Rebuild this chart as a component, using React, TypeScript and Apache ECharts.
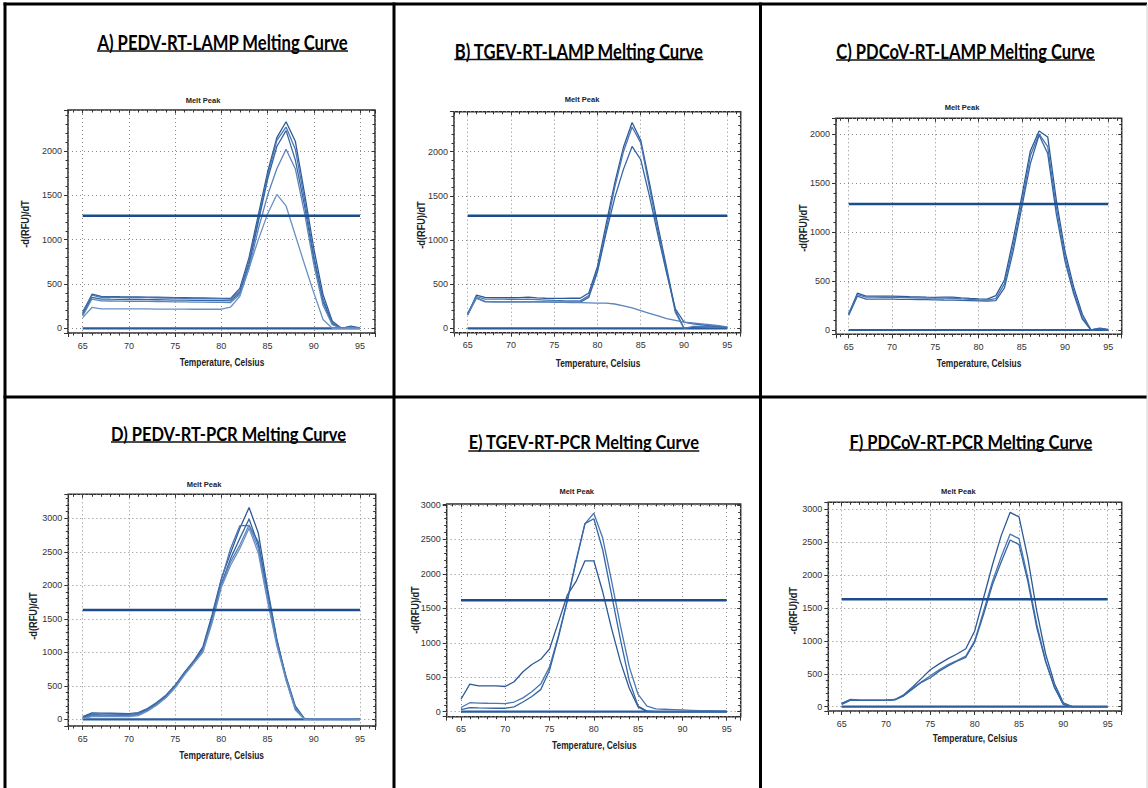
import { useEffect, useRef } from 'react';
import * as echarts from 'echarts';

// ---------- data ----------
const temperatures = [65, 66, 67, 68, 69, 70, 71, 72, 73, 74, 75, 76, 77, 78, 79, 80, 81, 82, 83, 84, 85, 86, 87, 88, 89, 90, 91, 92, 93, 94, 95];

const panelTitles = [
  'A) PEDV-RT-LAMP Melting Curve',
  'B) TGEV-RT-LAMP Melting Curve',
  'C) PDCoV-RT-LAMP Melting Curve',
  'D) PEDV-RT-PCR Melting Curve',
  'E) TGEV-RT-PCR Melting Curve',
  'F) PDCoV-RT-PCR Melting Curve',
];
const plotTitle = 'Melt Peak';
const xAxisName = 'Temperature, Celsius';
const yAxisName = '-d(RFU)/dT';

const thresholds = [1270, 1275, 1286, 1631, 1617, 1630];
const baseline = [0, 0, 0, 0, 0, 0, 0, 0, 0, 0, 0, 0, 0, 0, 0, 0, 0, 0, 0, 0, 0, 0, 0, 0, 0, 0, 0, 0, 0, 0, 0];

const curvesA = [
  [170, 385, 360, 358, 356, 355, 354, 352, 350, 348, 346, 345, 343, 342, 340, 338, 336, 450, 800, 1280, 1760, 2150, 2330, 2110, 1520, 900, 380, 80, 0, 25, 5],
  [190, 375, 350, 350, 348, 347, 346, 345, 343, 342, 340, 338, 336, 335, 333, 332, 330, 420, 760, 1230, 1720, 2120, 2270, 2020, 1450, 820, 330, 60, 0, 15, 0],
  [160, 350, 330, 328, 327, 326, 325, 324, 322, 320, 318, 317, 315, 314, 313, 312, 310, 400, 720, 1200, 1680, 2050, 2230, 1900, 1380, 780, 300, 50, 0, 10, 0],
  [140, 330, 310, 308, 306, 305, 304, 303, 302, 300, 298, 297, 296, 295, 293, 292, 290, 380, 680, 1120, 1500, 1800, 2020, 1800, 1300, 720, 260, 40, 0, 10, 0],
  [120, 235, 220, 220, 219, 219, 218, 218, 217, 217, 216, 216, 215, 215, 215, 215, 240, 360, 680, 1000, 1290, 1510, 1380, 1050, 720, 400, 100, 0, 0, 0, 0],
];
const curvesB = [
  [150, 375, 350, 348, 347, 346, 348, 352, 345, 340, 338, 338, 340, 340, 400, 700, 1180, 1650, 2050, 2330, 2130, 1650, 1150, 680, 200, 0, 10, 15, 20, 20, 10],
  [170, 360, 330, 330, 330, 328, 328, 330, 325, 320, 315, 312, 310, 310, 370, 660, 1120, 1600, 2000, 2280, 2100, 1600, 1100, 650, 180, 0, 20, 20, 25, 20, 5],
  [160, 345, 305, 300, 300, 300, 300, 300, 300, 298, 297, 296, 295, 295, 350, 640, 1080, 1480, 1800, 2060, 1910, 1500, 1050, 620, 220, 70, 50, 40, 30, 25, 10],
  [150, 340, 300, 300, 300, 300, 300, 300, 300, 298, 296, 294, 292, 290, 288, 286, 284, 275, 255, 230, 200, 170, 140, 110, 90, 70, 60, 50, 40, 30, 15],
];
const curvesC = [
  [160, 375, 345, 345, 345, 345, 343, 340, 338, 335, 333, 335, 335, 328, 322, 318, 315, 350, 510, 920, 1360, 1830, 2030, 1970, 1320, 800, 440, 160, 0, 20, 5],
  [170, 360, 335, 335, 334, 333, 332, 330, 328, 326, 325, 325, 324, 318, 313, 308, 305, 320, 470, 860, 1300, 1780, 2000, 1870, 1250, 750, 400, 130, 0, 15, 0],
  [150, 345, 315, 315, 315, 314, 313, 312, 311, 310, 308, 306, 305, 302, 300, 298, 295, 300, 430, 800, 1250, 1700, 1990, 1800, 1180, 700, 370, 110, 0, 10, 0],
];
const curvesD = [
  [40, 95, 92, 90, 88, 85, 100, 160, 250, 360, 510, 700, 870, 1080, 1560, 2100, 2480, 2850, 3160, 2780, 1950, 1200, 620, 180, 0, 5, 5, 5, 5, 5, 0],
  [30, 80, 78, 76, 75, 74, 90, 150, 240, 350, 500, 690, 860, 1050, 1520, 2080, 2550, 2890, 2890, 2650, 1900, 1180, 600, 150, 0, 10, 10, 10, 5, 5, 0],
  [20, 65, 62, 60, 60, 60, 75, 140, 230, 340, 490, 680, 850, 1040, 1500, 2020, 2400, 2700, 2990, 2600, 1880, 1150, 640, 200, 10, 10, 10, 10, 10, 10, 5],
  [15, 50, 50, 50, 50, 50, 65, 130, 220, 330, 480, 670, 840, 1020, 1470, 2000, 2350, 2600, 2900, 2550, 1800, 1130, 610, 170, 0, 5, 5, 5, 5, 5, 0],
  [10, 40, 40, 40, 40, 40, 55, 120, 210, 320, 470, 660, 830, 1000, 1440, 1970, 2300, 2550, 2850, 2480, 1760, 1100, 580, 140, 0, 5, 5, 5, 5, 5, 0],
];
const curvesE = [
  [180, 400, 375, 375, 375, 365, 435, 580, 685, 760, 910, 1300, 1690, 1890, 2190, 2190, 1740, 1210, 726, 340, 70, 0, 0, 0, 0, 0, 0, 0, 0, 0, 0],
  [60, 130, 125, 122, 120, 118, 140, 200, 290, 400, 650, 1100, 1620, 2200, 2730, 2880, 2520, 1900, 1250, 650, 250, 80, 40, 35, 30, 25, 20, 15, 15, 10, 10],
  [30, 60, 55, 52, 50, 50, 70, 140, 220, 320, 600, 1080, 1600, 2180, 2730, 2800, 2350, 1700, 1050, 450, 80, 10, 0, 0, 0, 0, 0, 0, 0, 0, 0],
];
const curvesF = [
  [50, 110, 100, 100, 100, 100, 110, 180, 300, 430, 560, 650, 730, 800, 880, 1150, 1650, 2150, 2600, 2950, 2880, 2250, 1450, 800, 350, 60, 0, 0, 0, 0, 0],
  [40, 105, 98, 97, 97, 97, 108, 170, 280, 380, 470, 560, 640, 700, 770, 1000, 1450, 1900, 2280, 2620, 2550, 1950, 1250, 700, 300, 40, 0, 0, 0, 0, 0],
  [35, 100, 95, 95, 95, 95, 105, 165, 270, 370, 440, 540, 620, 690, 750, 980, 1400, 1850, 2200, 2530, 2460, 1900, 1200, 680, 290, 30, 0, 0, 0, 0, 0],
];
const panelCurves = [curvesA, curvesB, curvesC, curvesD, curvesE, curvesF];

// ---------- layout (pixels) ----------
const layouts = [
  { grid: [68, 110, 307, 223], x: [63.41, 96.62], y: [-53, 2462], melt: [203, 100], yName: [25, 224], xName: [222, 363], title: [222.5, 41.5, 251, 21, 51] },
  { grid: [454, 111.7, 286.7, 221], x: [63.42, 96.55], y: [-50, 2453], melt: [582, 99.5], yName: [421.7, 225], xName: [598, 363.3], title: [578.8, 50.5, 249, 21, 59.5] },
  { grid: [836, 118.3, 285.7, 216], x: [63.53, 96.55], y: [-44, 2160], melt: [962, 107.7], yName: [803.3, 228], xName: [979, 364], title: [965.5, 51, 259, 21, 60] },
  { grid: [68.3, 494.3, 307.4, 231.7], x: [63.44, 96.7], y: [-100, 3358], melt: [204, 484.3], yName: [33.3, 616], xName: [221.7, 755.7], title: [228.5, 434, 235, 18, 442] },
  { grid: [446.7, 504, 294, 212.7], x: [63.39, 96.58], y: [-73, 3014], melt: [576.7, 491.7], yName: [415, 610], xName: [594.3, 745.7], title: [583.8, 442.5, 231, 18, 451] },
  { grid: [828.3, 502.3, 293.4, 208.7], x: [63.49, 96.58], y: [-65, 3102], melt: [958.3, 491.7], yName: [793.3, 610.8], xName: [975, 739], title: [970.8, 442, 243, 18, 450] },
];

const curveColors = ['#2c5a97', '#4a76b2', '#3566a4', '#5b84bc', '#6a90c4'];

function measure(text: string, font: string): number {
  const c = document.createElement('canvas');
  const ctx = c.getContext('2d');
  if (!ctx) return 1;
  ctx.font = font;
  return ctx.measureText(text).width;
}

function buildOption() {
  const grids: any[] = [];
  const xAxes: any[] = [];
  const yAxes: any[] = [];
  const series: any[] = [];
  const graphics: any[] = [];

  const tickColor = '#333';
  const labelFmt = (step: number) => (v: number) => (Math.abs(v % step) < 1e-6 ? String(v) : '');

  layouts.forEach((L, k) => {
    const [gl, gt, gw, gh] = L.grid;
    grids.push({ left: gl, top: gt, width: gw, height: gh, show: true, borderColor: '#2b2b2b', borderWidth: 1.5, backgroundColor: '#fff', containLabel: false });

    const xBase = { type: 'value', gridIndex: k, min: L.x[0], max: L.x[1], splitNumber: 6, scale: true };
    xAxes.push({
      ...xBase, position: 'bottom',
      axisLine: { show: false, onZero: false },
      axisTick: { show: true, inside: false, length: 4, lineStyle: { color: tickColor } },
      minorTick: { show: true, splitNumber: 5, length: 2.5, lineStyle: { color: tickColor } },
      splitLine: { show: true, lineStyle: { color: '#8a8a8a', type: [1, 3], width: 1 } },
      axisLabel: { formatter: labelFmt(5), fontSize: 9, color: '#333', fontFamily: 'Liberation Sans', margin: 8 },
    });
    xAxes.push({
      ...xBase, position: 'top',
      axisLine: { show: false, onZero: false },
      axisTick: { show: true, inside: true, length: 3.5, lineStyle: { color: tickColor } },
      minorTick: { show: true, splitNumber: 5, length: 2.5, lineStyle: { color: tickColor } },
      splitLine: { show: false },
      axisLabel: { show: false },
    });
    const yBase = { type: 'value', gridIndex: k, min: L.y[0], max: L.y[1], splitNumber: 5, scale: true };
    yAxes.push({
      ...yBase, position: 'left',
      axisLine: { show: false, onZero: false },
      axisTick: { show: true, inside: false, length: 4, lineStyle: { color: tickColor } },
      minorTick: { show: true, splitNumber: 5, length: 2.5, lineStyle: { color: tickColor } },
      splitLine: { show: true, lineStyle: { color: '#8a8a8a', type: [1, 3], width: 1 } },
      axisLabel: { formatter: labelFmt(500), fontSize: 9, color: '#333', fontFamily: 'Liberation Sans', margin: 6 },
    });
    yAxes.push({
      ...yBase, position: 'right',
      axisLine: { show: false, onZero: false },
      axisTick: { show: true, inside: true, length: 3.5, lineStyle: { color: tickColor } },
      minorTick: { show: true, splitNumber: 5, length: 2.5, lineStyle: { color: tickColor } },
      splitLine: { show: false },
      axisLabel: { show: false },
    });

    const xi = 2 * k;
    const yi = 2 * k;
    // flat negative-control baseline
    series.push({
      type: 'line', xAxisIndex: xi, yAxisIndex: yi, silent: true, showSymbol: false, symbol: 'none', z: 3,
      lineStyle: { color: '#2a5b9c', width: 2.2 },
      data: temperatures.map((t, i) => [t, baseline[i]]),
    });
    panelCurves[k].forEach((vals, c) => {
      series.push({
        type: 'line', xAxisIndex: xi, yAxisIndex: yi, silent: true, showSymbol: false, symbol: 'none', z: 4,
        lineStyle: { color: curveColors[c % curveColors.length], width: 1.3 },
        data: temperatures.map((t, i) => [t, vals[i]]),
      });
    });
    // threshold line
    series.push({
      type: 'line', xAxisIndex: xi, yAxisIndex: yi, silent: true, showSymbol: false, symbol: 'none', z: 5,
      lineStyle: { color: '#1d4c8c', width: 2.4 },
      data: [[temperatures[0], thresholds[k]], [temperatures[temperatures.length - 1], thresholds[k]]],
    });

    // texts
    const [tcx, tcy, tw, tsize, uy] = L.title;
    const tfont = `bold ${tsize}px Lato`;
    const mw = measure(panelTitles[k], tfont);
    graphics.push({
      type: 'text', x: tcx, y: tcy, scaleX: tw / mw, silent: true,
      style: { text: panelTitles[k], fontFamily: 'Lato', fontWeight: 'bold', fontSize: tsize, fill: '#000', align: 'center', verticalAlign: 'middle' },
    });
    graphics.push({
      type: 'line', silent: true,
      shape: { x1: tcx - tw / 2, y1: uy, x2: tcx + tw / 2, y2: uy },
      style: { stroke: '#111', lineWidth: 1.4 },
    });
    graphics.push({
      type: 'text', x: L.melt[0], y: L.melt[1], silent: true,
      style: { text: plotTitle, fontFamily: 'Liberation Sans', fontWeight: 'bold', fontSize: 7.5, fill: '#222', align: 'center', verticalAlign: 'middle' },
    });
    graphics.push({
      type: 'text', x: L.xName[0], y: L.xName[1], scaleX: 0.84, silent: true,
      style: { text: xAxisName, fontFamily: 'Liberation Sans', fontWeight: 'bold', fontSize: 10, fill: '#222', align: 'center', verticalAlign: 'middle' },
    });
    graphics.push({
      type: 'text', x: L.yName[0], y: L.yName[1], rotation: Math.PI / 2, scaleX: 0.92, silent: true,
      style: { text: yAxisName, fontFamily: 'Liberation Sans', fontWeight: 'bold', fontSize: 10, fill: '#222', align: 'center', verticalAlign: 'middle' },
    });
  });

  // panel borders
  const border = (x1: number, y1: number, x2: number, y2: number, w: number, c: string) => ({
    type: 'line', silent: true, z: 100,
    shape: { x1, y1, x2, y2 },
    style: { stroke: c, lineWidth: w },
  });
  graphics.push(border(3.5, 4, 1147, 4, 3, '#000'));
  graphics.push(border(5, 2.5, 5, 788, 3, '#000'));
  graphics.push(border(3.5, 397, 1147, 397, 3, '#000'));
  graphics.push(border(394, 2.5, 394, 788, 3, '#000'));
  graphics.push(border(760.5, 2.5, 760.5, 788, 3, '#000'));
  graphics.push(border(1147, 4, 1147, 788, 1, '#d0d0d0'));

  return {
    animation: false,
    backgroundColor: '#fff',
    grid: grids,
    xAxis: xAxes,
    yAxis: yAxes,
    series,
    graphic: graphics,
  };
}

export default function App() {
  const ref = useRef<HTMLDivElement>(null);
  useEffect(() => {
    if (!ref.current) return;
    const chart = echarts.init(ref.current, undefined, { renderer: 'svg' });
    chart.setOption(buildOption() as any);
    return () => chart.dispose();
  }, []);
  return (
    <div
      ref={ref}
      style={{ position: 'absolute', left: 0, top: 0, width: 1148, height: 788, background: '#fff' }}
    />
  );
}
